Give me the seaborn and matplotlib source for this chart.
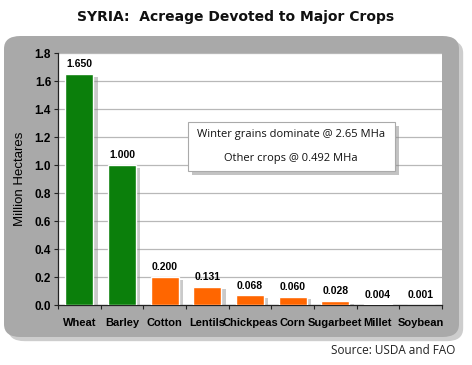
import matplotlib
matplotlib.use("Agg")
import matplotlib.pyplot as plt
import matplotlib.patheffects as pe
from matplotlib.patches import FancyBboxPatch
import seaborn as sns
import pandas as pd
import numpy as np

crops = ["Wheat", "Barley", "Cotton", "Lentils", "Chickpeas", "Corn", "Sugarbeet", "Millet", "Soybean"]
area = [1.650, 1.000, 0.200, 0.131, 0.068, 0.060, 0.028, 0.004, 0.001]
labels = ["1.650", "1.000", "0.200", "0.131", "0.068", "0.060", "0.028", "0.004", "0.001"]
bar_colors = ["#0b7f0b", "#0b7f0b", "#ff6600", "#ff6600", "#ff6600", "#ff6600", "#ff6600", "#ff6600", "#ff6600"]
yticks = [0.0, 0.2, 0.4, 0.6, 0.8, 1.0, 1.2, 1.4, 1.6, 1.8]

df = pd.DataFrame({"crop": crops, "area": area})

sns.set_theme(style="white")
plt.rcParams["font.family"] = ["Liberation Sans", "DejaVu Sans"]

W, H = 472, 365
fig = plt.figure(figsize=(W / 100, H / 100), dpi=100)
fig.patch.set_facecolor("white")

# gray rounded panel
panel = FancyBboxPatch((4 / W, 1 - 337 / H), 455 / W, 301 / H,
                       boxstyle="round,pad=0,rounding_size=0.035",
                       transform=fig.transFigure, facecolor="#a9a9a9",
                       edgecolor="none", zorder=-5,
                       path_effects=[pe.SimplePatchShadow(offset=(3, -3), shadow_rgbFace="#c8c8c8", alpha=0.9), pe.Normal()])
fig.patches.append(panel)

ax = fig.add_axes([58 / W, 1 - 305 / H, (442 - 58) / W, (305 - 53) / H])
ax.set_zorder(1)
ax.set_facecolor("white")

sns.barplot(data=df, x="crop", y="area", hue="crop", palette=bar_colors,
            legend=False, width=0.66, ax=ax, saturation=1, zorder=3)
for p in ax.patches:
    p.set_path_effects([pe.SimplePatchShadow(offset=(3, -2), shadow_rgbFace="#8a8a8a", alpha=0.45), pe.Normal()])

for i, (v, lab) in enumerate(zip(area, labels)):
    ax.text(i, v + 0.035, lab, ha="center", va="bottom", fontsize=7.5, fontweight="bold", color="#000000")

ax.set_ylim(0, 1.8)
ax.set_xlim(-0.5, len(crops) - 0.5)
ax.set_yticks(yticks)
ax.set_yticklabels([f"{t:.1f}" for t in yticks], fontsize=8.5, fontweight="bold", color="#000000")
ax.yaxis.grid(True, color="#b8b8b8", linewidth=0.9, zorder=0)
ax.set_axisbelow(True)
ax.tick_params(axis="y", direction="out", length=3, width=0.8, color="#222222", pad=2, left=True)
ax.set_xticks(range(len(crops)))
ax.set_xticklabels(crops, fontsize=8, fontweight="bold", color="#000000")
ax.tick_params(axis="x", which="major", length=0, pad=9)
ax.set_xticks(np.arange(-0.5, len(crops), 1.0), minor=True)
ax.tick_params(axis="x", which="minor", direction="out", length=3, width=0.8, color="#222222", bottom=True)
for s in ["top", "right"]:
    ax.spines[s].set_visible(False)
for s in ["left", "bottom"]:
    ax.spines[s].set_color("#222222")
    ax.spines[s].set_linewidth(0.9)
ax.set_xlabel("")
ax.set_ylabel("Million Hectares", fontsize=9.5, labelpad=6, color="#000000")

# annotation box
box = FancyBboxPatch((188 / W, 1 - 171 / H), (395 - 188) / W, (171 - 122) / H,
                     boxstyle="square,pad=0", transform=fig.transFigure,
                     facecolor="white", edgecolor="#aaaaaa", linewidth=0.8, zorder=5,
                     path_effects=[pe.SimplePatchShadow(offset=(3, -3), shadow_rgbFace="#888888", alpha=0.5), pe.Normal()])
fig.patches.append(box)
fig.text(291 / W, 1 - 134 / H, "Winter grains dominate @ 2.65 MHa", ha="center", va="center",
         fontsize=8, family=["Open Sans", "DejaVu Sans"], color="#111111", zorder=6)
fig.text(291 / W, 1 - 159 / H, "Other crops @ 0.492 MHa", ha="center", va="center",
         fontsize=8, family=["Open Sans", "DejaVu Sans"], color="#111111", zorder=6)

fig.text(236 / W, 1 - 17 / H, "SYRIA:  Acreage Devoted to Major Crops", ha="center", va="center",
         fontsize=10, fontweight="bold", family=["DejaVu Sans"], color="#111111")
fig.text(455 / W, 1 - 351 / H, "Source: USDA and FAO", ha="right", va="center",
         fontsize=8.5, family=["Open Sans", "DejaVu Sans"], color="#222222")

fig.savefig("out.png", dpi=100)
